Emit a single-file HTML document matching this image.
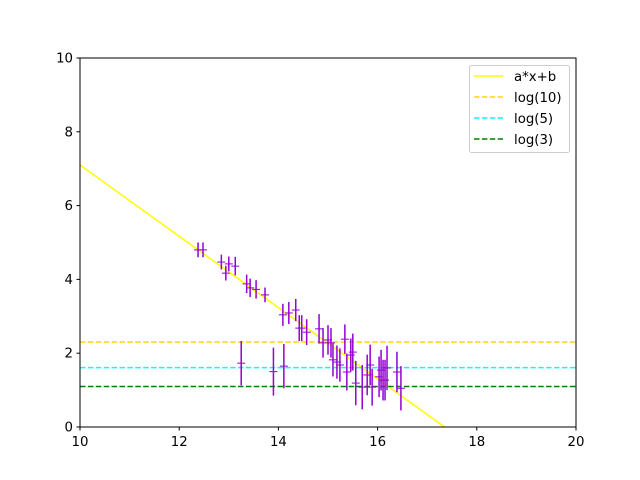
<!DOCTYPE html>
<html><head><meta charset="utf-8"><style>
html,body{margin:0;padding:0;background:#fff;width:640px;height:480px;overflow:hidden;}
svg{display:block;font-family:"DejaVu Sans","Liberation Sans",sans-serif;}
</style></head><body>
<svg id="chart" width="640" height="480"></svg>
<script>
const xs=[12.38,12.48,12.85,12.94,13.0,13.13,13.36,13.43,13.55,13.73,13.25,13.9,14.11,14.09,14.21,14.35,14.42,14.47,14.57,14.82,14.9,15.0,15.06,15.1,15.18,15.24,15.34,15.38,15.46,15.5,15.56,15.69,15.79,15.85,15.89,16.03,16.07,16.11,16.15,16.19,16.39,16.47];
const ys=[4.8,4.8,4.47,4.17,4.42,4.36,3.88,3.77,3.73,3.58,1.73,1.5,1.65,3.04,3.09,3.17,2.68,2.68,2.57,2.66,2.28,2.36,2.28,1.82,1.76,1.68,2.38,1.49,1.95,2.03,1.19,1.08,1.41,1.68,1.08,1.36,1.54,1.27,1.27,1.6,1.49,1.05];
const errs=[0.2,0.2,0.2,0.2,0.2,0.25,0.25,0.25,0.25,0.2,0.6,0.65,0.6,0.3,0.3,0.3,0.35,0.35,0.35,0.4,0.4,0.4,0.4,0.45,0.45,0.45,0.4,0.5,0.45,0.5,0.6,0.6,0.55,0.55,0.5,0.55,0.55,0.55,0.55,0.6,0.55,0.6];
const slope=-0.966, intercept=16.76;
const hlines=[{v:Math.log(10),c:"#ffd700",n:"log(10)"},{v:Math.log(5),c:"#00ffff",n:"log(5)"},{v:Math.log(3),c:"#008000",n:"log(3)"}];
const xTicks=[10,12,14,16,18,20], yTicks=[0,2,4,6,8,10];
const L=80,R=576,T=58,B=427;
const X=v=>L+(v-10)/10*(R-L), Y=v=>B-v/10*(B-T);
const svg=document.getElementById('chart');const NS="http://www.w3.org/2000/svg";
function mk(t,a,p){const e=document.createElementNS(NS,t);for(const k in a)e.setAttribute(k,a[k]);(p||svg).appendChild(e);return e;}
const clip=mk('clipPath',{id:'cp'});mk('rect',{x:L,y:T,width:R-L,height:B-T},clip);
const g=mk('g',{'clip-path':'url(#cp)'});


let ln=mk('line',{x1:X(10),y1:Y(slope*10+intercept),x2:X(20),y2:Y(slope*20+intercept),stroke:'#ffff00','stroke-width':1.5},g);


hlines.forEach(h=>{const e=mk('line',{x1:L,x2:R,y1:Y(h.v),y2:Y(h.v),stroke:h.c,'stroke-width':1.5,'stroke-dasharray':'5.5,2.4'},g);

});
xs.forEach((x,i)=>{const eg=mk('g',{stroke:'#9400d3','stroke-width':1.5},g);


mk('line',{x1:X(x),x2:X(x),y1:Y(ys[i]-errs[i]),y2:Y(ys[i]+errs[i])},eg);
mk('line',{x1:X(x)-4,x2:X(x)+4,y1:Y(ys[i]),y2:Y(ys[i]),'stroke-width':1},eg);});
mk('rect',{x:L,y:T,width:R-L,height:B-T,fill:'none',stroke:'#000','stroke-width':1});
xTicks.forEach(t=>{mk('line',{x1:X(t),x2:X(t),y1:B,y2:B+3.5,stroke:'#000'});
const tx=mk('text',{x:X(t),y:B+19,'text-anchor':'middle','font-size':13.3});tx.textContent=t;

});
yTicks.forEach(t=>{mk('line',{x1:L-3.5,x2:L,y1:Y(t),y2:Y(t),stroke:'#000'});
const tx=mk('text',{x:L-7,y:Y(t)+4.5,'text-anchor':'end','font-size':13.3});tx.textContent=t;

});
const lg=mk('g',{});


mk('rect',{x:469.5,y:65.5,width:100,height:87,rx:2,fill:'#fff',stroke:'#ccc'},lg);
const items=[{c:'#ffff00',n:'a*x+b',d:null}].concat(hlines.map(h=>({c:h.c,n:h.n,d:'5.5,2.4'})));
items.forEach((it,i)=>{const y=76+i*21;const a={x1:474,x2:503,y1:y,y2:y,stroke:it.c,'stroke-width':1.5};if(it.d)a['stroke-dasharray']=it.d;mk('line',a,lg);
const tx=mk('text',{x:514,y:y+5,'font-size':13.3},lg);tx.textContent=it.n;

});
</script>
</body></html>
